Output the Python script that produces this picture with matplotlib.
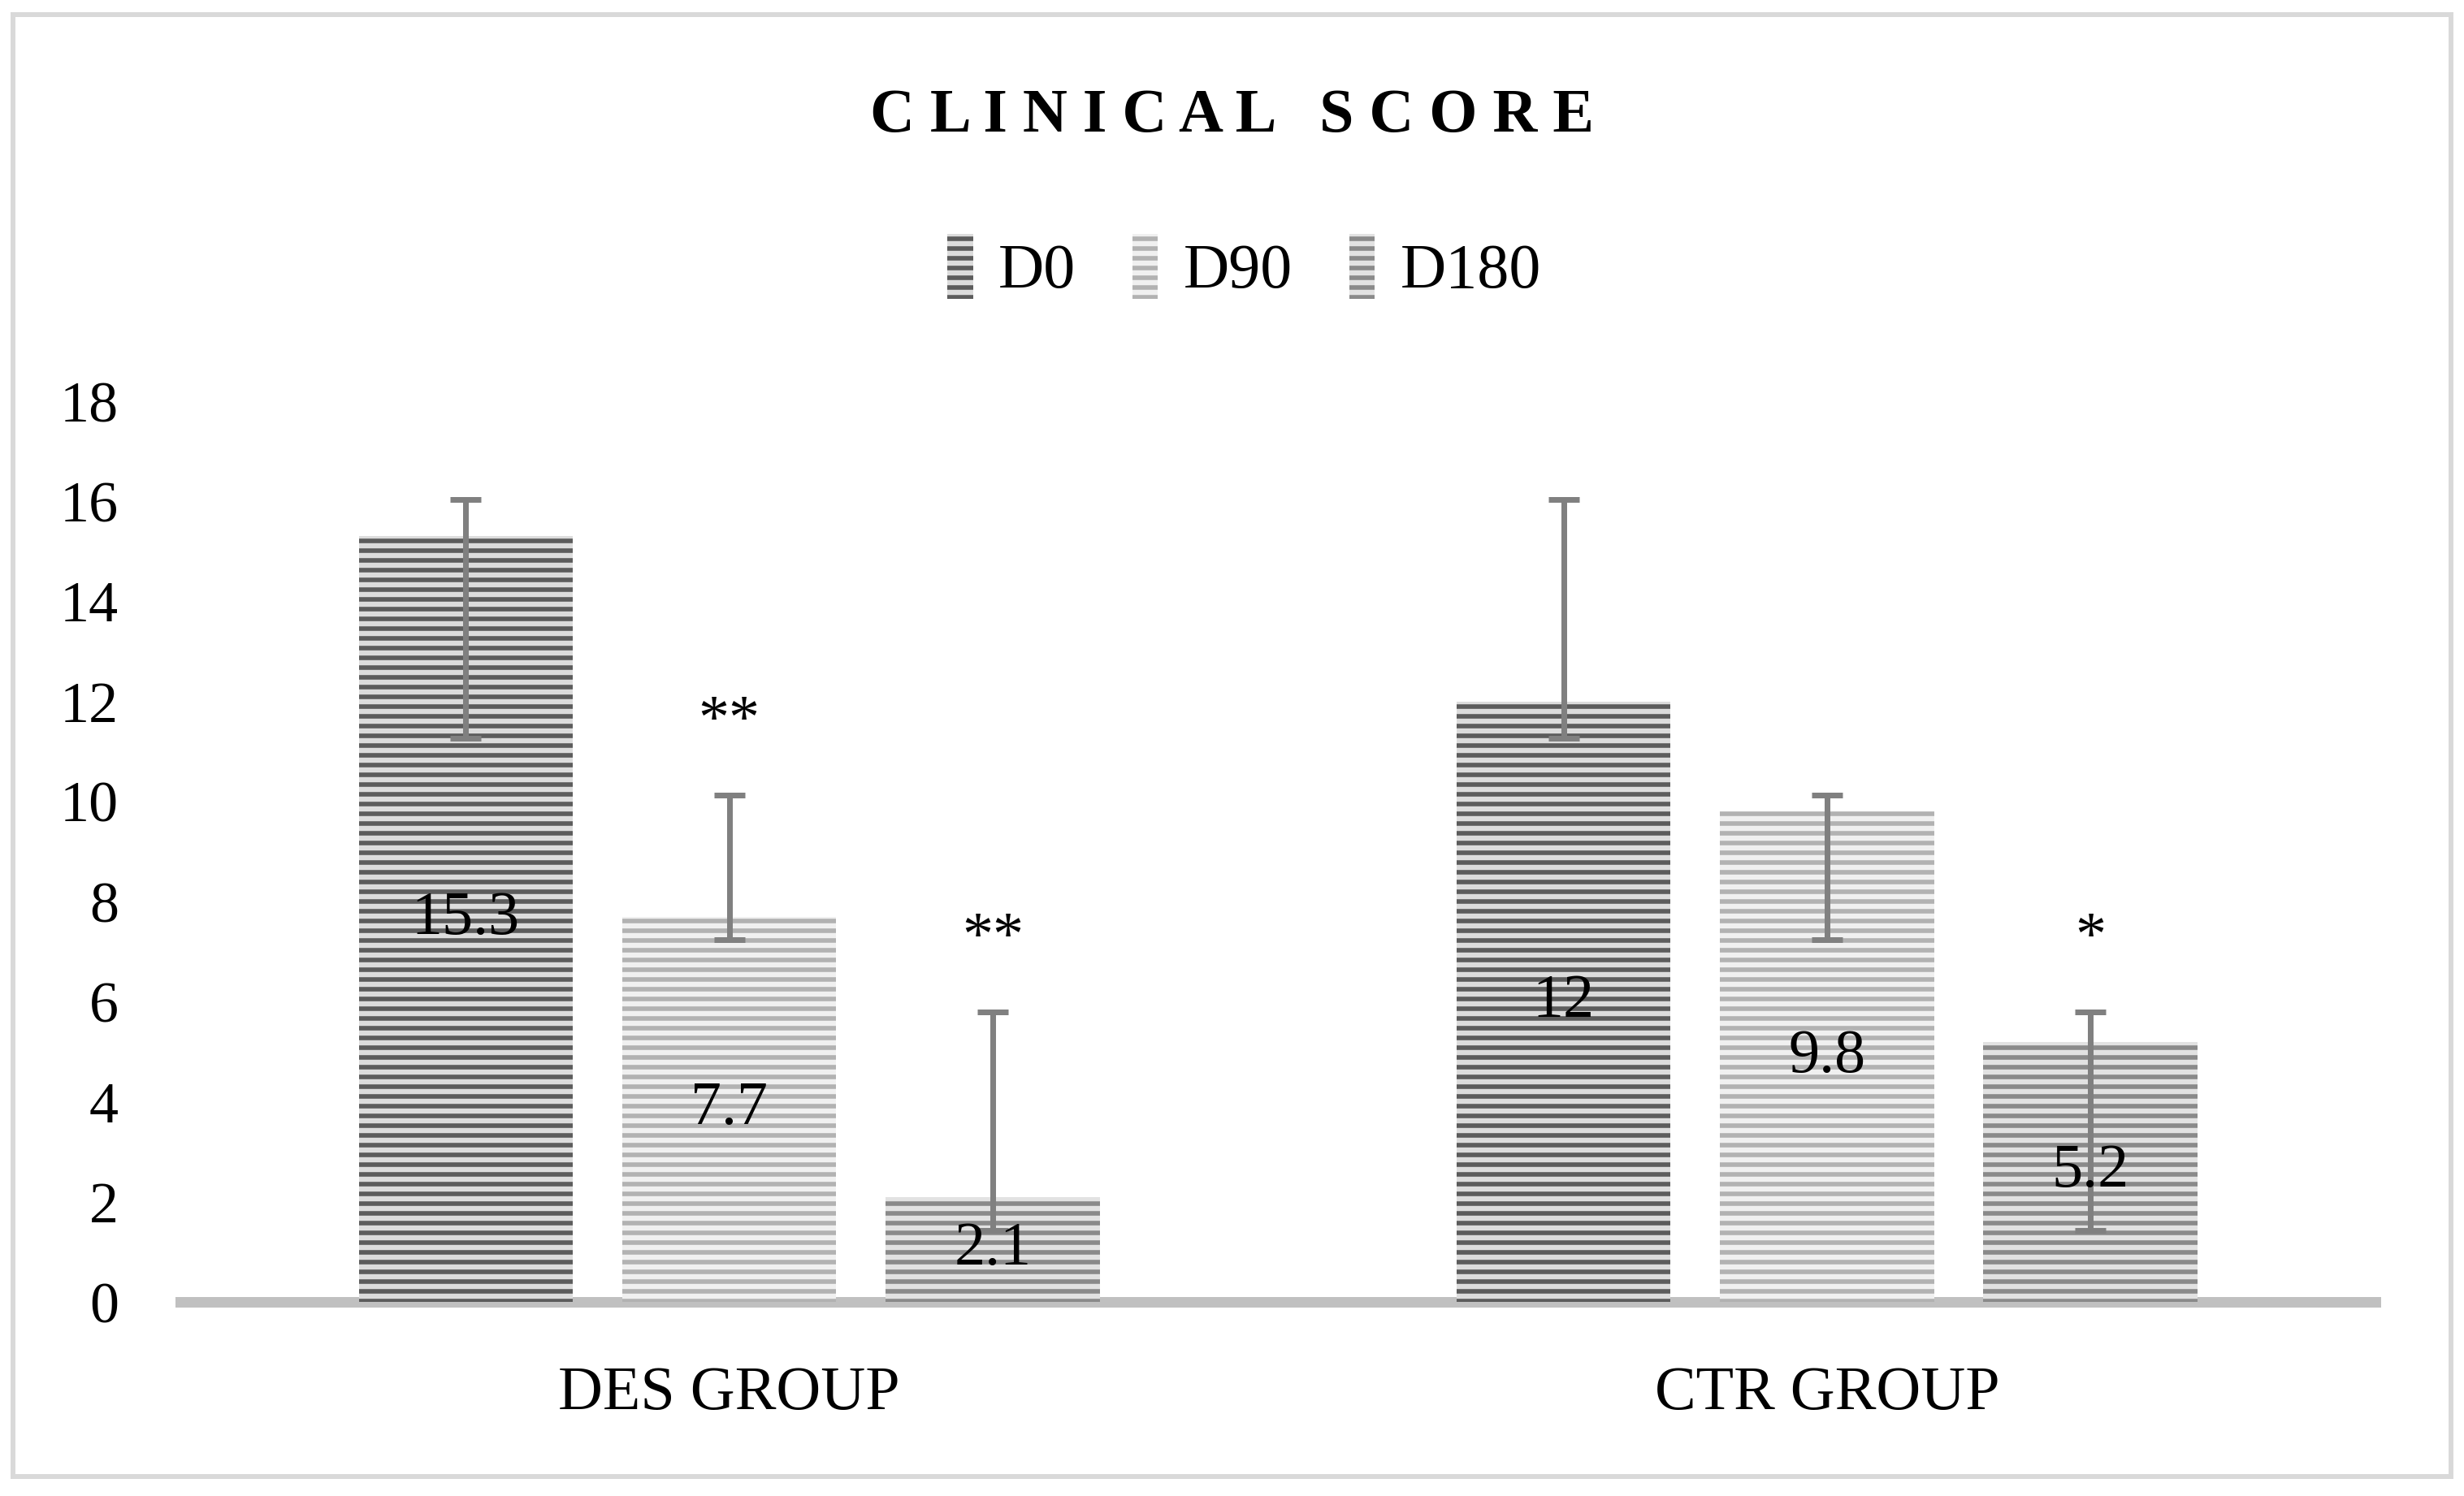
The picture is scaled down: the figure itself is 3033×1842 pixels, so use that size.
import matplotlib.pyplot as plt
import numpy as np
from matplotlib.patches import Rectangle

plt.rcParams['font.family'] = ['Liberation Serif', 'DejaVu Serif']
plt.rcParams['hatch.linewidth'] = 2.8

# Data
groups = ['DES GROUP', 'CTR GROUP']
series = ['D0', 'D90', 'D180']
d0 = [15.3, 12]
d90 = [7.7, 9.8]
d180 = [2.1, 5.2]
# error bar ends (low, high) as drawn in the original
d0_err_low = [11.27, 11.27]
d0_err_high = [16.04, 16.04]
d90_err_low = [7.24, 7.24]
d90_err_high = [10.13, 10.13]
d180_err_low = [1.43, 1.43]
d180_err_high = [5.8, 5.8]
# significance marks
stars = [['', '**', '**'], ['', '', '*']]

values = [d0, d90, d180]
lows = [d0_err_low, d90_err_low, d180_err_low]
highs = [d0_err_high, d90_err_high, d180_err_high]
face_colors = ['#dcdcdc', '#f0f0f0', '#e2e2e2']
stripe_colors = ['#5c5c5c', '#b2b2b2', '#8a8a8a']

fig = plt.figure(figsize=(3033 / 144, 1842 / 144), dpi=144)
ax = fig.add_axes([0.0732, 0.1297, 0.891, 0.6021])

x = np.arange(len(groups))
width = 0.195
offsets = [-0.24, 0, 0.24]


def fmt(v):
    return str(int(v)) if v == int(v) else str(v)


for i in range(len(series)):
    xs = x + offsets[i]
    ax.bar(xs, values[i], width, color=face_colors[i], edgecolor=stripe_colors[i],
           hatch='--', linewidth=0, label=series[i], zorder=2)
    vals = np.array(values[i])
    yerr = [vals - np.array(lows[i]), np.array(highs[i]) - vals]
    ax.errorbar(xs, vals, yerr=yerr, fmt='none', ecolor='#808080', elinewidth=3.5,
                capsize=9.5, capthick=3.5, zorder=3)
    for j in range(len(groups)):
        ax.text(xs[j], vals[j] / 2, fmt(vals[j]),
                ha='center', va='center', fontsize=38, color='black', zorder=4)
        if stars[j][i]:
            ax.text(xs[j], highs[i][j] + 1.15, stars[j][i], ha='center', va='baseline',
                    fontsize=38, color='black', zorder=4)

ax.set_xlim(-0.5, 1.5)
ax.set_ylim(0, 18)
ax.set_yticks(range(0, 19, 2))
ax.set_xticks([])
for s in ax.spines.values():
    s.set_visible(False)
ax.axhline(0, color='#c0c0c0', linewidth=6.5, zorder=1, clip_on=False)
ax.tick_params(axis='y', length=0, pad=38, labelsize=36)

for j in range(len(groups)):
    fig.text(ax.transData.transform((x[j], 0))[0] / fig.bbox.width, 0.068, groups[j],
             ha='center', va='center', fontsize=38)

fig.text(0.5, 0.922, ' '.join('CLINICAL') + '   ' + ' '.join('SCORE'),
         ha='center', va='center', fontsize=38, fontweight='bold')

fig.legend(loc='center', bbox_to_anchor=(0.505, 0.821), ncol=3, frameon=False,
           fontsize=39, handlelength=0.4, handleheight=1.2, handletextpad=0.4,
           columnspacing=0.9)

# light grey frame around the chart
fig.patches.append(Rectangle((16 / 3033, 24 / 1842), 3001 / 3033, 1800 / 1842,
                             transform=fig.transFigure, fill=False,
                             edgecolor='#d9d9d9', linewidth=3))

fig.savefig('out.png', dpi=144)
